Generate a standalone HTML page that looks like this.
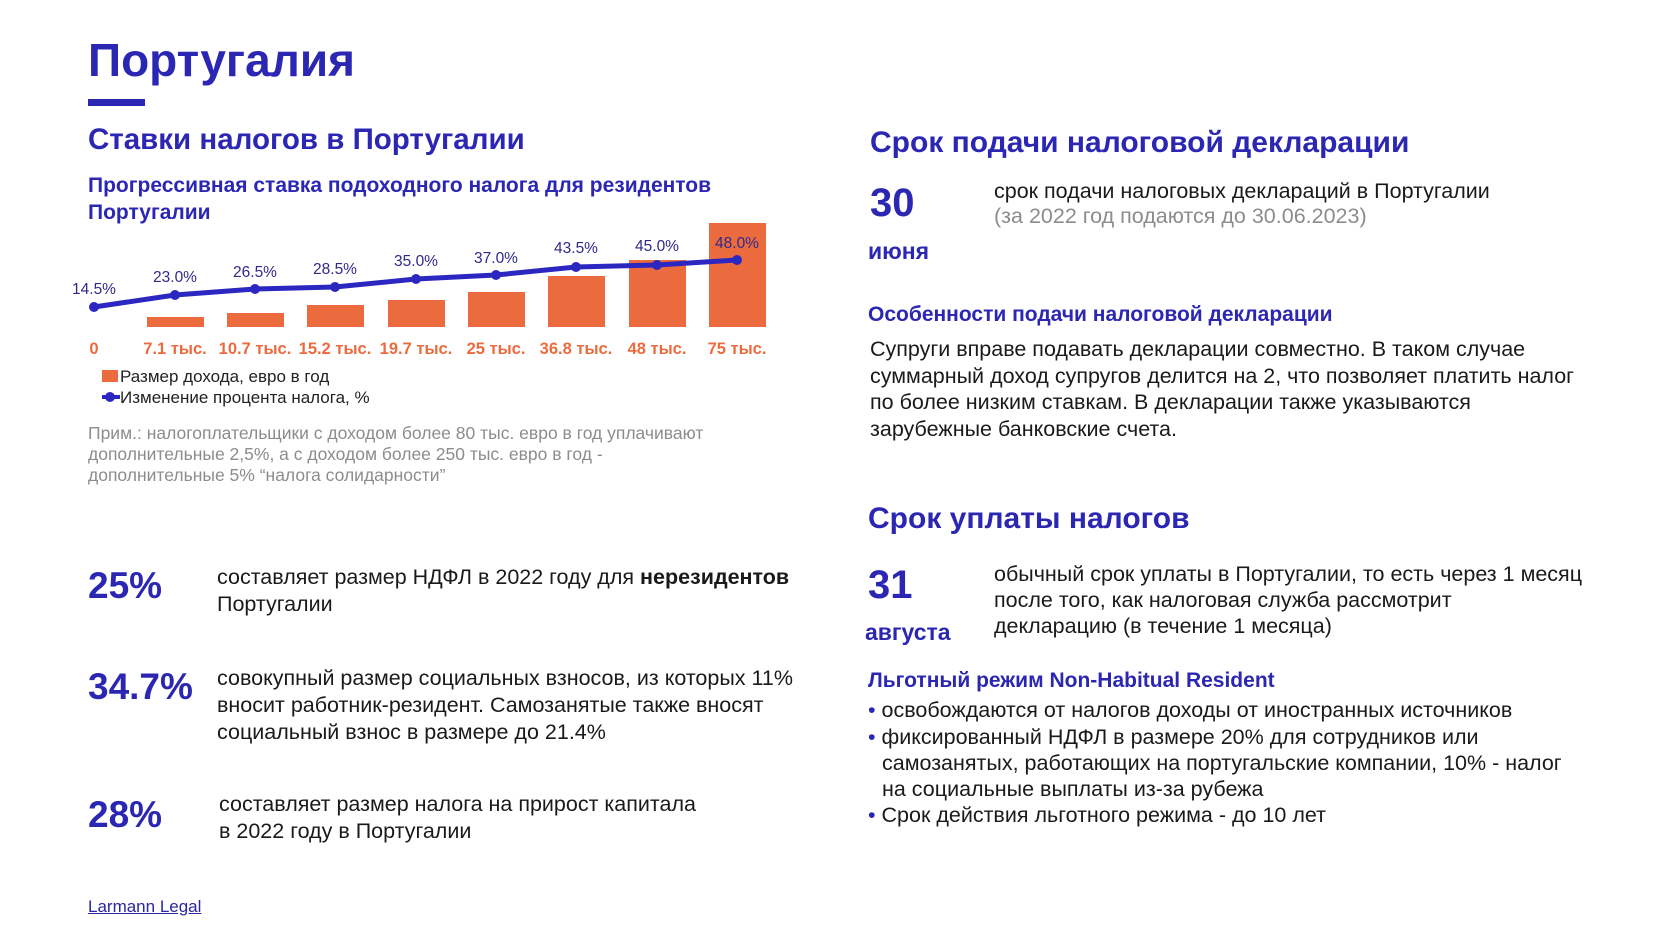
<!DOCTYPE html>
<html><head><meta charset="utf-8"><style>
body{margin:0;width:1680px;height:945px;background:#fff;position:relative;overflow:hidden;font-family:"Liberation Sans","DejaVu Sans",sans-serif;}
.t{position:absolute;white-space:nowrap;line-height:1;}
.b{color:#2b27b3;font-weight:bold;}
.p{font-size:21.5px;color:#1a1a1a;}
.g{color:#8c8c8c;}
</style></head><body>
<div class="t b" style="left:88px;top:37px;font-size:46px;">Португалия</div>
<div style="position:absolute;left:88px;top:99px;width:57px;height:7px;background:#2b27b3"></div>
<div class="t b" style="left:88px;top:125px;font-size:29.5px;">Ставки налогов в Португалии</div>
<div class="t b" style="left:88px;top:175px;font-size:21px;">Прогрессивная ставка подоходного налога для резидентов</div>
<div class="t b" style="left:88px;top:202px;font-size:21px;">Португалии</div>

<svg style="position:absolute;left:0;top:0" width="840" height="420" font-family="Liberation Sans, sans-serif">
<g fill="#ec6b3e">
<rect x="147" y="317" width="57" height="10"/>
<rect x="227" y="313" width="57" height="14"/>
<rect x="307" y="305" width="57" height="22"/>
<rect x="388" y="300" width="57" height="27"/>
<rect x="468" y="292" width="57" height="35"/>
<rect x="548" y="276" width="57" height="51"/>
<rect x="629" y="260" width="57" height="67"/>
<rect x="709" y="223" width="57" height="104"/>
</g>
<polyline points="94,307 175,295 255,289 335,287 416,279 496,275 576,267 657,265 737,260" fill="none" stroke="#2b27c0" stroke-width="5"/>
<g fill="#2b27c0">
<circle cx="94" cy="307" r="5"/><circle cx="175" cy="295" r="5"/><circle cx="255" cy="289" r="5"/><circle cx="335" cy="287" r="5"/><circle cx="416" cy="279" r="5"/><circle cx="496" cy="275" r="5"/><circle cx="576" cy="267" r="5"/><circle cx="657" cy="265" r="5"/><circle cx="737" cy="260" r="5"/>
</g>
<g fill="#2e2a8a" font-size="15.5" text-anchor="middle">
<text x="94" y="294">14.5%</text><text x="175" y="282">23.0%</text><text x="255" y="277">26.5%</text><text x="335" y="274">28.5%</text><text x="416" y="266">35.0%</text><text x="496" y="263">37.0%</text><text x="576" y="253">43.5%</text><text x="657" y="251">45.0%</text><text x="737" y="248">48.0%</text>
</g>
<g fill="#ec6b3e" font-size="16.5" font-weight="bold" text-anchor="middle">
<text x="94" y="354">0</text><text x="175" y="354">7.1 тыс.</text><text x="255" y="354">10.7 тыс.</text><text x="335" y="354">15.2 тыс.</text><text x="416" y="354">19.7 тыс.</text><text x="496" y="354">25 тыс.</text><text x="576" y="354">36.8 тыс.</text><text x="657" y="354">48 тыс.</text><text x="737" y="354">75 тыс.</text>
</g>
<rect x="102" y="370" width="16" height="12" fill="#ec6b3e"/>
<text x="120" y="382" font-size="17" fill="#222">Размер дохода, евро в год</text>
<line x1="102" y1="397" x2="120" y2="397" stroke="#2b27c0" stroke-width="4"/><circle cx="110" cy="397" r="5" fill="#2b27c0"/>
<text x="120" y="403" font-size="17" fill="#222">Изменение процента налога, %</text>
</svg>
<div class="t g" style="left:88px;top:425px;font-size:17.5px;">Прим.: налогоплательщики с доходом более 80 тыс. евро в год уплачивают</div>
<div class="t g" style="left:88px;top:446px;font-size:17.5px;">дополнительные 2,5%, а с доходом более 250 тыс. евро в год -</div>
<div class="t g" style="left:88px;top:467px;font-size:17.5px;">дополнительные 5% “налога солидарности”</div>

<div class="t b" style="left:88px;top:567px;font-size:37px;">25%</div>
<div class="t p" style="left:217px;top:567px;">составляет размер НДФЛ в 2022 году для <b>нерезидентов</b></div>
<div class="t p" style="left:217px;top:594px;">Португалии</div>
<div class="t b" style="left:88px;top:668px;font-size:37px;">34.7%</div>
<div class="t p" style="left:217px;top:668px;">совокупный размер социальных взносов, из которых 11%</div>
<div class="t p" style="left:217px;top:695px;">вносит работник-резидент. Самозанятые также вносят</div>
<div class="t p" style="left:217px;top:722px;">социальный взнос в размере до 21.4%</div>
<div class="t b" style="left:88px;top:796px;font-size:37px;">28%</div>
<div class="t p" style="left:219px;top:794px;">составляет размер налога на прирост капитала</div>
<div class="t p" style="left:219px;top:821px;">в 2022 году в Португалии</div>
<div class="t" style="left:88px;top:898px;font-size:17px;color:#2b27a0;text-decoration:underline;">Larmann Legal</div>

<div class="t b" style="left:870px;top:128px;font-size:30px;">Срок подачи налоговой декларации</div>
<div class="t b" style="left:870px;top:183px;font-size:40px;">30</div>
<div class="t b" style="left:868px;top:240px;font-size:23px;">июня</div>
<div class="t p" style="left:994px;top:181px;">срок подачи налоговых деклараций в Португалии</div>
<div class="t p g" style="left:994px;top:206px;color:#8c8c8c;">(за 2022 год подаются до 30.06.2023)</div>
<div class="t b" style="left:868px;top:304px;font-size:21px;">Особенности подачи налоговой декларации</div>
<div class="t p" style="left:870px;top:339px;">Супруги вправе подавать декларации совместно. В таком случае</div>
<div class="t p" style="left:870px;top:366px;">суммарный доход супругов делится на 2, что позволяет платить налог</div>
<div class="t p" style="left:870px;top:392px;">по более низким ставкам. В декларации также указываются</div>
<div class="t p" style="left:870px;top:419px;">зарубежные банковские счета.</div>

<div class="t b" style="left:868px;top:504px;font-size:30px;">Срок уплаты налогов</div>
<div class="t b" style="left:868px;top:565px;font-size:40px;">31</div>
<div class="t b" style="left:865px;top:621px;font-size:23px;">августа</div>
<div class="t p" style="left:994px;top:564px;">обычный срок уплаты в Португалии, то есть через 1 месяц</div>
<div class="t p" style="left:994px;top:590px;">после того, как налоговая служба рассмотрит</div>
<div class="t p" style="left:994px;top:616px;">декларацию (в течение 1 месяца)</div>
<div class="t b" style="left:868px;top:670px;font-size:21px;">Льготный режим Non-Habitual Resident</div>
<div class="t p" style="left:868px;top:700px;"><span style="color:#2b27b3">•</span> освобождаются от налогов доходы от иностранных источников</div>
<div class="t p" style="left:868px;top:727px;"><span style="color:#2b27b3">•</span> фиксированный НДФЛ в размере 20% для сотрудников или</div>
<div class="t p" style="left:882px;top:753px;">самозанятых, работающих на португальские компании, 10% - налог</div>
<div class="t p" style="left:882px;top:779px;">на социальные выплаты из-за рубежа</div>
<div class="t p" style="left:868px;top:805px;"><span style="color:#2b27b3">•</span> Срок действия льготного режима - до 10 лет</div>
</body></html>
